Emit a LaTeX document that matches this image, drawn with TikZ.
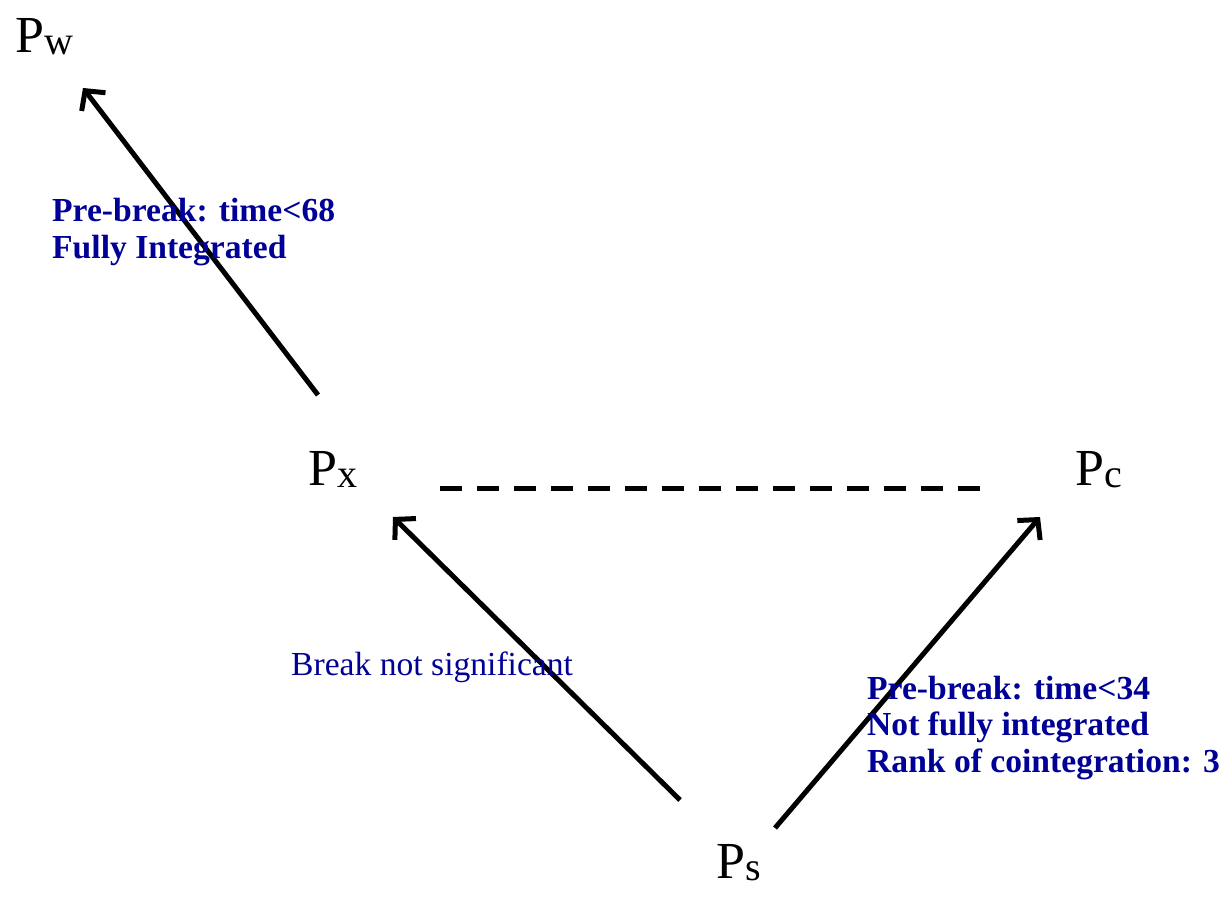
\documentclass[tikz,border=0pt]{standalone}
\usepackage{fontspec}
\setmainfont{Liberation Serif}
\usetikzlibrary{arrows.meta}

\definecolor{labelblue}{RGB}{0,0,150}
\newcommand{\priceof}[1]{{\fontsize{52}{52}\selectfont P}{\fontsize{40}{40}\selectfont\raisebox{-2pt}{#1}}}

\begin{document}
\begin{tikzpicture}[x=1pt,y=-1pt,
  price/.style={inner sep=0pt,anchor=base west},
  note/.style={inner sep=0pt,anchor=base west,text=labelblue,align=left,
    font=\fontsize{33.6}{36.5}\selectfont\bfseries},
  link/.style={line width=5pt,-{Straight Barb[length=14pt,width=30pt]}}]

\useasboundingbox (0,0) rectangle (1224,900);

% --- Prezzi ---
\node[price] (pw) at (15,52)   {\priceof{w}};
\node[price] (px) at (308,485) {\priceof{x}};
\node[price] (pc) at (1075,485) {\priceof{c}};
\node[price] (ps) at (716,878) {\priceof{s}};

% --- Estremi delle frecce ---
\coordinate (px-out) at (318,395);
\coordinate (pw-in)  at (83,88);
\coordinate (ps-l)   at (680,800);
\coordinate (px-in)  at (393,517);
\coordinate (ps-r)   at (775,828);
\coordinate (pc-in)  at (1040,517);
\coordinate (dash-a) at (440,488);
\coordinate (dash-b) at (983,488);

% --- Frecce ---
\draw[link] (px-out) -- (pw-in);
\draw[link] (ps-l) -- (px-in);
\draw[link] (ps-r) -- (pc-in);
\draw[line width=5pt,dash pattern=on 22pt off 15pt] (dash-a) -- (dash-b);

% --- Etichette ---
\node[note] (n-w) at (52,258) {Pre-break: time<68\\Fully Integrated};
\node[note,font=\fontsize{33.6}{36.5}\selectfont] (n-x) at (291,675) {Break not significant};
\node[note] (n-c) at (867,772) {Pre-break: time<34\\Not fully integrated\\Rank of cointegration: 3};

\end{tikzpicture}
\end{document}
